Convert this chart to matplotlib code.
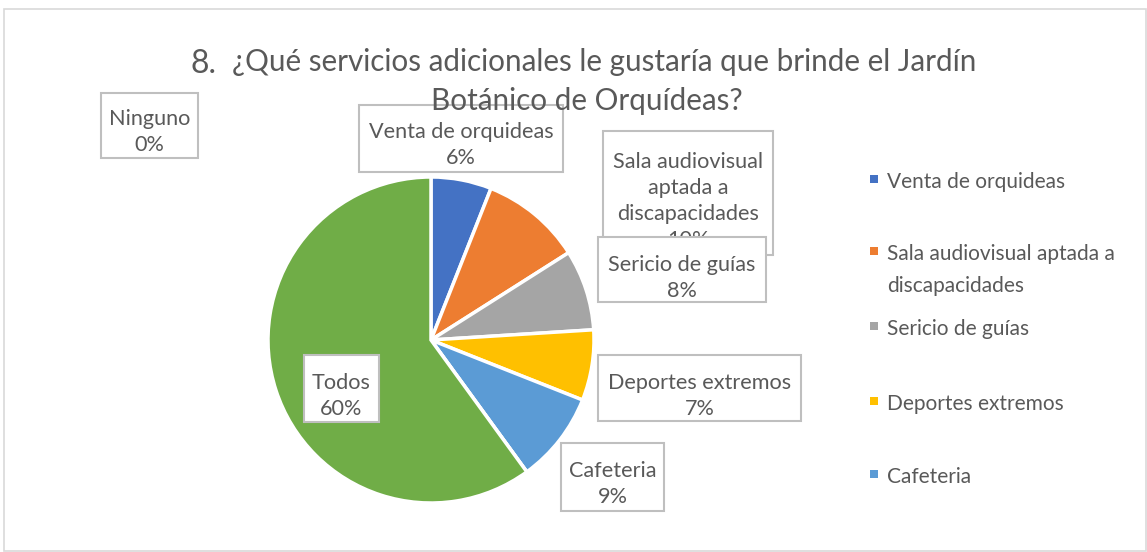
"""Pie chart: servicios adicionales del Jardín Botánico de Orquídeas."""

import matplotlib
import matplotlib.pyplot as plt
from matplotlib.patches import Rectangle

matplotlib.use("Agg")
plt.rcParams["font.family"] = ["Lato", "DejaVu Sans"]

W, H = 1147, 552

categories = [
    "Venta de orquideas",
    "Sala audiovisual aptada a discapacidades",
    "Sericio de guías",
    "Deportes extremos",
    "Cafeteria",
    "Ninguno",
    "Todos",
]
percentages = [6, 10, 8, 7, 9, 0, 60]
colors = ["#4472C4", "#ED7D31", "#A5A5A5", "#FFC000", "#5B9BD5", "#264478", "#70AD47"]
# wrapped text for data labels / legend
label_text = [
    "Venta de orquideas",
    "Sala audiovisual\naptada a\ndiscapacidades",
    "Sericio de guías",
    "Deportes extremos",
    "Cafeteria",
    "Ninguno",
    "Todos",
]
legend_text = [
    "Venta de orquideas",
    "Sala audiovisual aptada a\ndiscapacidades",
    "Sericio de guías",
    "Deportes extremos",
    "Cafeteria",
]
# label boxes in pixels: (left, top, right, bottom)
label_boxes = [
    (359, 105, 563, 172),
    (603, 131, 773, 255),
    (598, 237, 766, 302),
    (598, 355, 801, 421),
    (561, 443, 664, 511),
    (101, 93, 198, 158),
    (304, 355, 379, 422),
]
label_text_y = [145, 201, 278, 396, 484, 132, 396]
legend_y = [181, 253, 328, 403, 476]

TEXT = "#595959"
EDGE = "#BFBFBF"


def fx(x):
    return x / W


def fy(y):
    return 1 - y / H


fig = plt.figure(figsize=(W / 100, H / 100), dpi=100)
fig.patches.append(
    Rectangle((fx(4), fy(551)), fx(1146) - fx(4), fy(9) - fy(551),
              transform=fig.transFigure, fill=False, edgecolor="#D9D9D9", lw=1.2)
)

# title (drawn over the label boxes, as in the original)
fig.text(fx(217), fy(64), "8.", fontsize=23, color=TEXT, ha="right", va="center",
         zorder=40)
fig.text(fx(232), fy(62), "¿Qué servicios adicionales le gustaría que brinde el Jardín",
         fontsize=21.3, color=TEXT, ha="left", va="center", zorder=40)
fig.text(fx(587), fy(101), "Botánico de Orquídeas?", fontsize=21.3, color=TEXT,
         ha="center", va="center", zorder=40)

cx, cy, r = 431, 340, 163
ax = fig.add_axes([fx(cx - r), fy(cy + r), 2 * r / W, 2 * r / H])
ax.pie(percentages, colors=colors, startangle=90, counterclock=False,
       wedgeprops={"edgecolor": "white", "linewidth": 2.5})
ax.set_xlim(-1.0, 1.0)
ax.set_ylim(-1.0, 1.0)

for i, (name, pct) in enumerate(zip(label_text, percentages)):
    l, t, rr, b = label_boxes[i]
    z = 5 + 2 * i
    fig.patches.append(
        Rectangle((fx(l), fy(b)), fx(rr) - fx(l), fy(t) - fy(b),
                  transform=fig.transFigure, facecolor="white", edgecolor=EDGE,
                  lw=1.5, zorder=z)
    )
    fig.text(fx((l + rr) / 2), fy(label_text_y[i]), f"{name}\n{pct}%",
             fontsize=15.6, color=TEXT, ha="center", va="center",
             linespacing=1.37, zorder=z + 1)

# legend, laid out by hand like the Excel original
for name, c, y in zip(legend_text, colors, legend_y):
    fig.patches.append(
        Rectangle((fx(870), fy(y + 2)), 8 / W, 8 / H, transform=fig.transFigure,
                  facecolor=c, edgecolor="none")
    )
    fig.text(fx(887), fy(y - 9), name, fontsize=15, color=TEXT, ha="left",
             va="top", linespacing=1.72)

fig.savefig("out.png", dpi=100)
